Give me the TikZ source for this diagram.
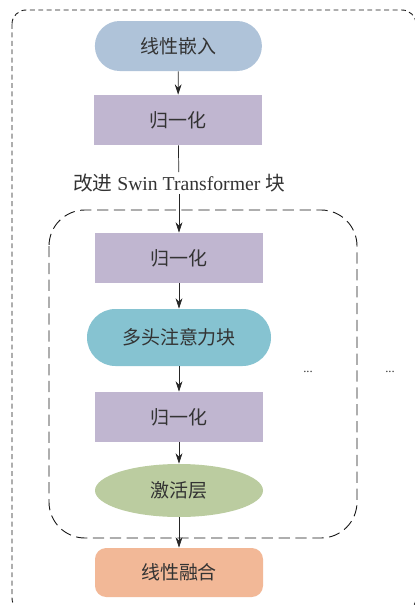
\documentclass[tikz,border=0pt]{standalone}
\usepackage{fontspec}
\setmainfont{Liberation Serif}
\newfontfamily\cjk{Noto Sans CJK SC}
\usetikzlibrary{arrows.meta,shapes.geometric}
\definecolor{embedblue}{HTML}{AFC3D9}
\definecolor{normpurple}{HTML}{C0B6D0}
\definecolor{attncyan}{HTML}{86C3D1}
\definecolor{actgreen}{HTML}{BBCCA0}
\definecolor{fuseorange}{HTML}{F2B897}
\definecolor{txtgray}{HTML}{333333}
\tikzset{
	blockbox/.style={minimum width=4.2cm, minimum height=1.25cm, inner sep=0pt, text=txtgray, font=\cjk\fontsize{13.5}{15}\selectfont},
	normbox/.style={blockbox, rectangle, fill=normpurple},
	pillbox/.style={blockbox, rectangle, rounded corners=0.62cm},
	flow/.style={draw=black!85, line width=0.5pt, -{Stealth[length=2.6mm,width=1.7mm]}}
}

\begin{document}
\begin{tikzpicture}
		%%%%% START %%%%%
		\useasboundingbox (0, 0) rectangle (10.35, -15.125);
		
		\draw[black!90, line width=0.65pt, dash pattern=on 3.5pt off 2.5pt, rounded corners=0.35cm] (0.3, -0.25) rectangle (10.4, -15.3);
		\draw[black!90, line width=0.65pt, dash pattern=on 8pt off 4pt, rounded corners=0.9cm] (1.225, -5.25) rectangle (8.925, -13.45);
		
		\node[pillbox, fill=embedblue, minimum width=4.175cm] (embed) at (4.46, -1.15) {线性嵌入};
		\node[normbox] (norm1) at (4.45, -3.0) {归一化};
		\node[text=txtgray, font=\fontsize{14}{16}\selectfont, inner sep=1pt] (swinlabel) at (4.475, -4.575) {{\cjk 改进} Swin Transformer {\cjk 块}};
		\node[normbox] (norm2) at (4.475, -6.45) {归一化};
		\node[pillbox, fill=attncyan, minimum width=4.6cm, minimum height=1.425cm, rounded corners=0.71cm] (attn) at (4.475, -8.4375) {多头注意力块};
		\node[normbox] (norm3) at (4.475, -10.425) {归一化};
		\node[blockbox, ellipse, fill=actgreen, minimum height=1.325cm] (act) at (4.475, -12.2625) {激活层};
		\node[blockbox, rectangle, rounded corners=0.28cm, fill=fuseorange, minimum height=1.225cm] (fuse) at (4.475, -14.3125) {线性融合};
		
		\node[text=txtgray, font=\small] (dotsin) at (7.7, -9.3) {...};
		\node[text=txtgray, font=\small] (dotsout) at (9.75, -9.3) {...};
		
		\draw[flow] (embed) -- (norm1);
		\draw[black!85, line width=0.5pt] (norm1) -- (swinlabel);
		\draw[flow] (swinlabel) -- (norm2);
		\draw[flow] (norm2) -- (attn);
		\draw[flow] (attn) -- (norm3);
		\draw[flow] (norm3) -- (act);
		\draw[flow] (act) -- (fuse);
		%%%%% END %%%%%
	\end{tikzpicture}
\end{document}
